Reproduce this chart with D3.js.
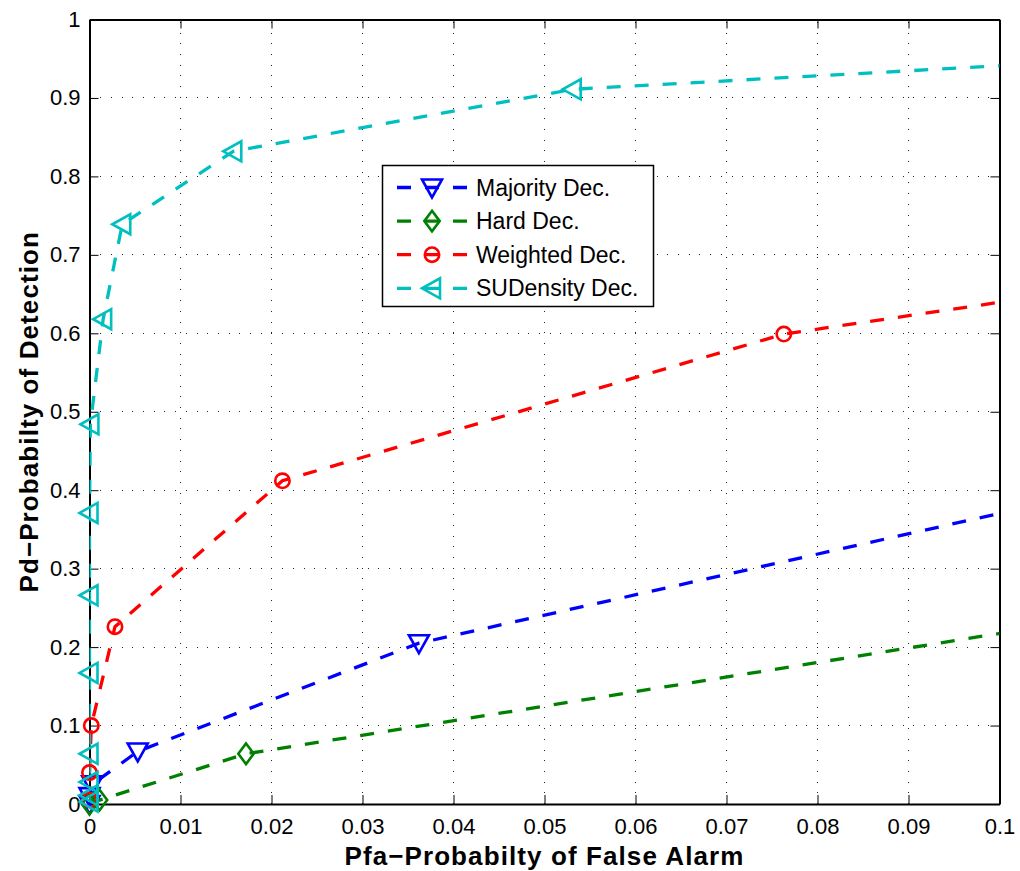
<!DOCTYPE html>
<html><head><meta charset="utf-8">
<script src="https://cdn.jsdelivr.net/npm/d3@7"></script>
<style>body{margin:0;background:#fff}svg{display:block}text{font-family:"Liberation Sans",Arial,sans-serif}</style>
</head><body><svg id="c" width="1020" height="871"></svg>
<script>
const xTicks = [0,0.01,0.02,0.03,0.04,0.05,0.06,0.07,0.08,0.09,0.1];
const yTicks = [0,0.1,0.2,0.3,0.4,0.5,0.6,0.7,0.8,0.9,1];
const xLabel = "Pfa\u2212Probabilty of False Alarm";
const yLabel = "Pd\u2212Probabilty of Detection";
const seriesNames = ["Majority Dec.","Hard Dec.","Weighted Dec.","SUDensity Dec."];
const majorityX = [0, 0.0000, 0.0003, 0.0053, 0.0362, 0.15];
const majorityY = [0, 0.010, 0.025, 0.067, 0.205, 0.50];
const hardX = [0, 0.0011, 0.0172, 0.15];
const hardY = [0, 0.005, 0.064, 0.31];
const weightedX = [0, 0, 0.0002, 0.0028, 0.0212, 0.0763, 0.15];
const weightedY = [0.005, 0.040, 0.100, 0.226, 0.412, 0.599, 0.725];
const sudX = [0, 0, 0, 0, 0, 0, 0, 0.0001, 0.0015, 0.0036, 0.0158, 0.0531, 0.15];
const sudY = [0.003, 0.011, 0.028, 0.064, 0.167, 0.266, 0.371, 0.484, 0.618, 0.739, 0.832, 0.911, 0.973];

const colors = ["#0000ff","#008000","#ff0000","#00bfbf"];
const markers = ["down","diamond","circle","left"];
const series = [
  {x: majorityX, y: majorityY},
  {x: hardX, y: hardY},
  {x: weightedX, y: weightedY},
  {x: sudX, y: sudY}
].map((s,i)=>({name: seriesNames[i], color: colors[i], marker: markers[i],
  pts: s.x.map((v,j)=>[v, s.y[j]])}));

const L=89.5, R=999.5, T=19.5, B=804;
const svg = d3.select("#c");
const x = d3.scaleLinear().domain([0,0.1]).range([L,R]);
const y = d3.scaleLinear().domain([0,1]).range([B,T]);

// grid
const g = svg.append("g");
g.selectAll(".vg").data(xTicks.slice(1,-1)).enter().append("line")
  .attr("x1",d=>x(d)).attr("x2",d=>x(d)).attr("y1",B).attr("y2",T)
  .attr("stroke","#222").attr("stroke-width",1).attr("stroke-dasharray","1,9.7").attr("shape-rendering","crispEdges");
g.selectAll(".hg").data(yTicks.slice(1,-1)).enter().append("line")
  .attr("y1",d=>y(d)).attr("y2",d=>y(d)).attr("x1",L).attr("x2",R)
  .attr("stroke","#222").attr("stroke-width",1).attr("stroke-dasharray","1,9.7").attr("shape-rendering","crispEdges");

// axes
const fmt = d => d3.format("~g")(d);
const xb = svg.append("g").attr("transform",`translate(0,${B})`)
  .call(d3.axisBottom(x).tickValues(xTicks).tickFormat(fmt).tickSizeInner(-9).tickSizeOuter(0).tickPadding(14));
const xt = svg.append("g").attr("transform",`translate(0,${T})`)
  .call(d3.axisTop(x).tickValues(xTicks).tickFormat("").tickSizeInner(-9).tickSizeOuter(0));
const yl = svg.append("g").attr("transform",`translate(${L},0)`)
  .call(d3.axisLeft(y).tickValues(yTicks).tickFormat(fmt).tickSizeInner(-9).tickSizeOuter(0).tickPadding(9));
const yr = svg.append("g").attr("transform",`translate(${R},0)`)
  .call(d3.axisRight(y).tickValues(yTicks).tickFormat("").tickSizeInner(-9).tickSizeOuter(0));
[xb,xt,yl,yr].forEach(a=>{
  a.select(".domain").attr("stroke","#000").attr("stroke-width",2);
  a.selectAll(".tick line").attr("stroke","#000").attr("stroke-width",1);
  a.selectAll("text").attr("font-size",22).attr("fill","#000").attr("font-family","Liberation Sans, Arial, sans-serif");
});

// clip
svg.append("clipPath").attr("id","clip").append("rect").attr("x",L).attr("y",T).attr("width",R-L).attr("height",B-T);

function markerPath(type){
  if(type==="down") return "M-10,-8L10,-8L0,10Z";
  if(type==="left") return "M8,-10L8,10L-10,0Z";
  if(type==="diamond") return "M0,-10.3L7.7,0L0,10.3L-7.7,0Z";
  return null;
}
function drawMarker(sel, type, color){
  if(type==="circle"){
    sel.append("circle").attr("r",7.2).attr("fill","none").attr("stroke",color).attr("stroke-width",2.6);
  } else {
    sel.append("path").attr("d",markerPath(type)).attr("fill","none").attr("stroke",color).attr("stroke-width",2.6).attr("stroke-linejoin","miter");
  }
}

const line = d3.line().x(d=>x(d[0])).y(d=>y(d[1]));
series.forEach(s=>{
  svg.append("path").datum(s.pts).attr("d",line).attr("clip-path","url(#clip)")
    .attr("fill","none").attr("stroke",s.color).attr("stroke-width",3.3).attr("stroke-dasharray","14,14");
});
series.forEach(s=>{
  s.pts.filter(p=>p[0]<=0.1).forEach(p=>{
    const m = svg.append("g").attr("transform",`translate(${x(p[0])},${y(p[1])})`);
    drawMarker(m, s.marker, s.color);
  });
});

// labels
svg.append("text").attr("x",(L+R)/2).attr("y",865).attr("text-anchor","middle")
  .attr("font-size",26).attr("font-weight","bold").attr("letter-spacing",1.1).text(xLabel);
svg.append("text").attr("transform",`translate(38,${(T+B)/2}) rotate(-90)`).attr("text-anchor","middle")
  .attr("font-size",26).attr("font-weight","bold").attr("letter-spacing",1.1).text(yLabel);

// legend
const lg = svg.append("g");
lg.append("rect").attr("x",382.5).attr("y",165.5).attr("width",271).attr("height",141)
  .attr("fill","#fff").attr("stroke","#000").attr("stroke-width",1.5);
series.forEach((s,i)=>{
  const cy = 187.5 + i*33.6;
  lg.append("line").attr("x1",397).attr("x2",467).attr("y1",cy).attr("y2",cy)
    .attr("stroke",s.color).attr("stroke-width",3.3).attr("stroke-dasharray","14,14");
  const m = lg.append("g").attr("transform",`translate(432,${cy})`);
  drawMarker(m, s.marker, s.color);
  lg.append("text").attr("x",476).attr("y",cy+8).attr("font-size",23).attr("fill","#000").text(s.name);
});
</script></body></html>
